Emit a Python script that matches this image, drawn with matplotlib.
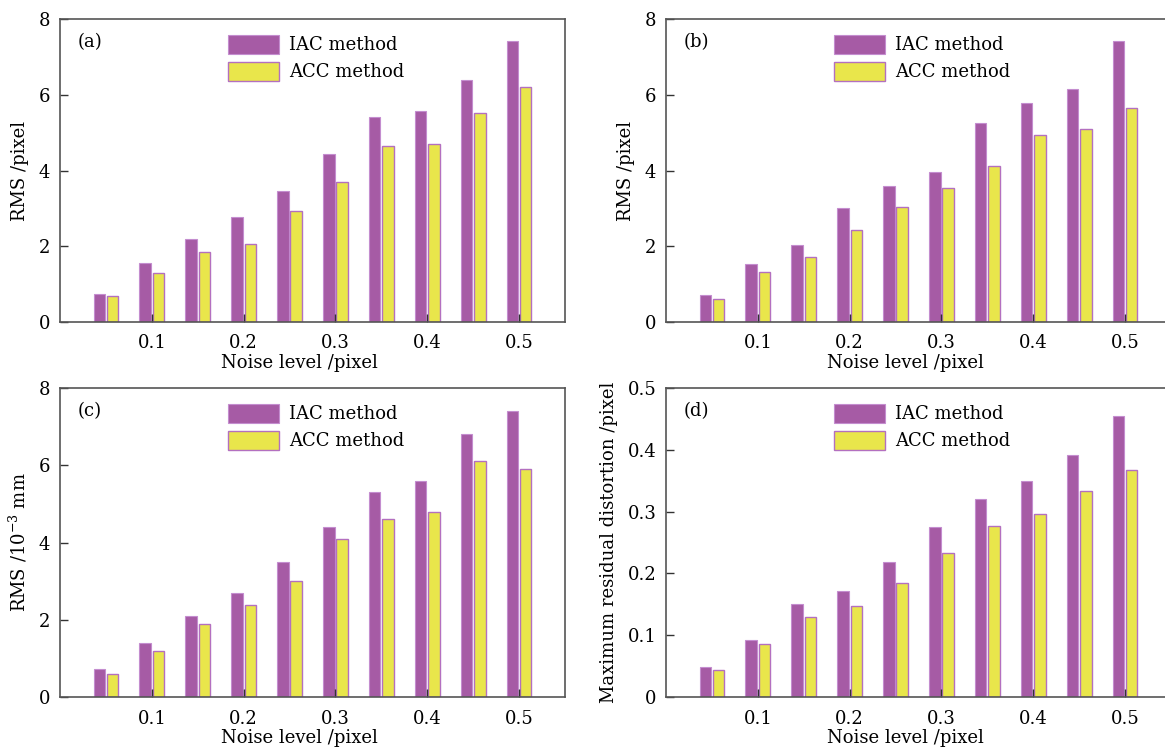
import matplotlib
matplotlib.use("Agg")
import matplotlib.pyplot as plt
import numpy as np

plt.rcParams["font.family"] = ["DejaVu Serif"]
plt.rcParams["mathtext.fontset"] = "dejavuserif"

# niveis de ruido (pixel)
ruido = [0.05, 0.10, 0.15, 0.20, 0.25, 0.30, 0.35, 0.40, 0.45, 0.50]
ticks_x = [0.1, 0.2, 0.3, 0.4, 0.5]
rotulos_x = ["0.1", "0.2", "0.3", "0.4", "0.5"]

# (a) RMS /pixel
iac_a = [0.75, 1.55, 2.20, 2.76, 3.47, 4.43, 5.41, 5.57, 6.40, 7.41]
acc_a = [0.69, 1.29, 1.85, 2.05, 2.93, 3.69, 4.66, 4.69, 5.53, 6.20]
# (b) RMS /pixel
iac_b = [0.72, 1.52, 2.02, 3.00, 3.60, 3.96, 5.26, 5.79, 6.16, 7.41]
acc_b = [0.61, 1.31, 1.72, 2.44, 3.04, 3.54, 4.13, 4.93, 5.09, 5.65]
# (c) RMS /10^-3 mm
iac_c = [0.73, 1.40, 2.09, 2.70, 3.50, 4.40, 5.30, 5.60, 6.80, 7.40]
acc_c = [0.59, 1.20, 1.89, 2.39, 3.00, 4.10, 4.60, 4.80, 6.10, 5.90]
# (d) distorcao residual maxima /pixel
iac_d = [0.048, 0.093, 0.150, 0.171, 0.219, 0.275, 0.321, 0.350, 0.391, 0.454]
acc_d = [0.043, 0.085, 0.129, 0.147, 0.185, 0.233, 0.276, 0.296, 0.333, 0.368]

cor_iac = "#a65ba5"
borda_iac = "#c48dcf"
cor_acc = "#e9e64b"
borda_acc = "#b370c0"

fig = plt.figure(figsize=(11.65, 7.47), dpi=100)

paineis = [
    ("(a)", iac_a, acc_a, "RMS /pixel", [0, 2, 4, 6, 8], ["0", "2", "4", "6", "8"], 8,
     [60 / 1165, 1 - 322 / 747, 505 / 1165, 303 / 747], True),
    ("(b)", iac_b, acc_b, "RMS /pixel", [0, 2, 4, 6, 8], ["0", "2", "4", "6", "8"], 8,
     [666 / 1165, 1 - 322 / 747, 505 / 1165, 303 / 747], False),
    ("(c)", iac_c, acc_c, "RMS /10$^{-3}$ mm", [0, 2, 4, 6, 8], ["0", "2", "4", "6", "8"], 8,
     [60 / 1165, 1 - 697 / 747, 505 / 1165, 309 / 747], True),
    ("(d)", iac_d, acc_d, "Maximum residual distortion /pixel",
     [0, 0.1, 0.2, 0.3, 0.4, 0.5], ["0", "0.1", "0.2", "0.3", "0.4", "0.5"], 0.5,
     [666 / 1165, 1 - 697 / 747, 505 / 1165, 309 / 747], False),
]

x = np.array(ruido)
larg = 0.0125

for letra, iac, acc, ylab, yt, ytl, ymax, pos, dir_visivel in paineis:
    ax = fig.add_axes(pos)
    ax.bar(x - 0.0072, iac, width=larg, color=cor_iac, edgecolor=borda_iac,
           linewidth=0.8, label="IAC method")
    ax.bar(x + 0.0072, acc, width=larg, color=cor_acc, edgecolor=borda_acc,
           linewidth=1.0, label="ACC method")
    ax.set_xlim(0, 0.55)
    ax.set_ylim(0, ymax)
    ax.set_xticks(ticks_x)
    ax.set_xticklabels(rotulos_x)
    ax.set_yticks(yt)
    ax.set_yticklabels(ytl)
    ax.tick_params(direction="in", length=6, width=1.0, labelsize=13, color="#333333")
    ax.tick_params(axis="x", pad=9)
    ax.tick_params(axis="y", pad=7)
    for s in ax.spines.values():
        s.set_color("#555555")
        s.set_linewidth(1.2)
    ax.spines["right"].set_visible(dir_visivel)
    ax.set_xlabel("Noise level /pixel", fontsize=13, labelpad=2)
    ax.xaxis.set_label_coords(0.475, -0.105)
    ax.set_ylabel(ylab, fontsize=13, labelpad=7)
    ax.text(0.035, 0.925, letra, transform=ax.transAxes, fontsize=13,
            va="center", ha="left")
    ax.legend(loc="upper left", bbox_to_anchor=(0.318, 0.972), frameon=False,
              fontsize=13, handlelength=2.85, handleheight=1.25,
              labelspacing=0.4, handletextpad=0.55, borderaxespad=0)

fig.savefig("out.png", dpi=100)
